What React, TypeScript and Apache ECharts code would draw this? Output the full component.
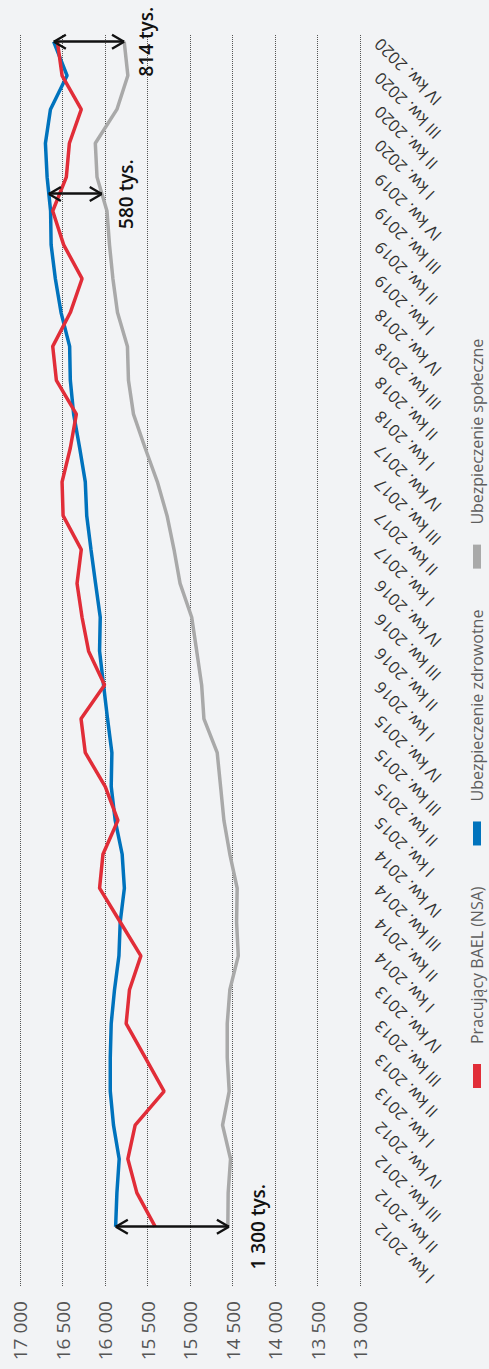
import React, { useEffect, useRef } from "react";
import * as echarts from "echarts";

const categories = [
  "I kw. 2012", "II kw. 2012", "III kw. 2012", "IV kw. 2012",
  "I kw. 2013", "II kw. 2013", "III kw. 2013", "IV kw. 2013",
  "I kw. 2014", "II kw. 2014", "III kw. 2014", "IV kw. 2014",
  "I kw. 2015", "II kw. 2015", "III kw. 2015", "IV kw. 2015",
  "I kw. 2016", "II kw. 2016", "III kw. 2016", "IV kw. 2016",
  "I kw. 2017", "II kw. 2017", "III kw. 2017", "IV kw. 2017",
  "I kw. 2018", "II kw. 2018", "III kw. 2018", "IV kw. 2018",
  "I kw. 2019", "II kw. 2019", "III kw. 2019", "IV kw. 2019",
  "I kw. 2020", "II kw. 2020", "III kw. 2020", "IV kw. 2020",
];

const seriesNames = ["Pracujący BAEL (NSA)", "Ubezpieczenie zdrowotne", "Ubezpieczenie społeczne"];

const pracujacy = [
  15410, 15625, 15731, 15645, 15305, 15528, 15751, 15712, 15578, 15821,
  16064, 16024, 15848, 15997, 16232, 16282, 16005, 16193, 16270, 16329,
  16279, 16493, 16505, 16408, 16337, 16572, 16615, 16408, 16270, 16486,
  16615, 16455, 16419, 16279, 16505, 16560,
];

const zdrowotne = [
  15875, 15860, 15833, 15900, 15938, 15938, 15927, 15888, 15836, 15821,
  15772, 15798, 15880, 15927, 15919, 15970, 16017, 16064, 16056, 16111,
  16165, 16215, 16232, 16298, 16369, 16408, 16416, 16517, 16584, 16634,
  16640, 16681, 16701, 16642, 16446, 16604,
];

const spoleczne = [
  14555, 14551, 14523, 14617, 14539, 14562, 14562, 14531, 14432, 14452,
  14445, 14531, 14601, 14640, 14680, 14836, 14863, 14921, 14980, 15117,
  15188, 15270, 15384, 15528, 15665, 15724, 15736, 15853, 15907, 15947,
  15977, 16094, 16114, 15860, 15731, 15774,
];

// annotation arrows (position on category index scale, upper and lower value)
const gapPositions = [0, 30.5, 35];
const gapUpper = [15875, 16662, 16604];
const gapLower = [14540, 16036, 15774];
const gapLabels = ["1 300 tys.", "580 tys.", "814 tys."];
const gapLabelDistance = [19, 15, 12];

const colors = ["#e12d38", "#0073bd", "#a9a9a9"];

const ARROW =
  "path://M7,0 L7.01,0 Z " +
  "M8.04,13.6 L1.04,25.6 L-1.04,24.4 L5.96,12.4 Z " +
  "M8.04,12.4 L15.04,24.4 L12.96,25.6 L5.96,13.6 Z";

const fmt = (v: number) => String(v).replace(/\B(?=(\d{3})+(?!\d))/g, " ");

export default function App() {
  const ref = useRef<HTMLDivElement>(null);

  useEffect(() => {
    if (!ref.current) return;
    const chart = echarts.init(ref.current, undefined, { renderer: "svg" });
    const font = "Open Sans";
    const option: any = {
      animation: false,
      backgroundColor: "#f2f3f5",
      textStyle: { fontFamily: font },
      grid: [
        { left: 83, right: 34, top: 20, bottom: 129 },
        { left: 142.3, right: 41.7, top: 20, bottom: 129 },
      ],
      legend: {
        data: seriesNames,
        left: 276,
        top: 463,
        icon: "rect",
        itemWidth: 24,
        itemHeight: 8,
        itemGap: 41,
        textStyle: { fontFamily: font, fontSize: 16, color: "#5e5e5e", padding: [0, 0, 0, 15], lineHeight: 18 },
      },
      xAxis: [
        { gridIndex: 0, type: "value", min: 0, max: 1, show: false },
        {
          gridIndex: 1,
          type: "category",
          data: categories,
          boundaryGap: false,
          axisLine: { show: false },
          axisTick: { show: false },
          splitLine: { show: false },
          axisLabel: { interval: 0, rotate: 45, margin: 17, fontSize: 16.5, color: "#333", fontFamily: font },
        },
        { gridIndex: 1, type: "value", min: 0, max: 35, show: false },
      ],
      yAxis: [
        {
          gridIndex: 0,
          type: "value",
          min: 13000,
          max: 17000,
          interval: 500,
          axisLine: { show: false },
          axisTick: { show: false },
          axisLabel: { margin: 15, fontSize: 19, color: "#555", fontFamily: font, formatter: fmt },
          splitLine: { show: true, lineStyle: { type: "dotted", color: "#555", width: 1 } },
        },
        { gridIndex: 1, type: "value", min: 13000, max: 17000, show: false },
      ],
      series: [
        {
          name: seriesNames[0], type: "line", xAxisIndex: 1, yAxisIndex: 1, data: pracujacy,
          showSymbol: false, symbol: "none", z: 4, color: colors[0],
          lineStyle: { width: 3.5, color: colors[0] },
        },
        {
          name: seriesNames[1], type: "line", xAxisIndex: 1, yAxisIndex: 1, data: zdrowotne,
          showSymbol: false, symbol: "none", z: 3, color: colors[1],
          lineStyle: { width: 3.5, color: colors[1] },
        },
        {
          name: seriesNames[2], type: "line", xAxisIndex: 1, yAxisIndex: 1, data: spoleczne,
          showSymbol: false, symbol: "none", z: 2, color: colors[2],
          lineStyle: { width: 3.5, color: colors[2] },
        },
        {
          type: "lines",
          coordinateSystem: "cartesian2d",
          xAxisIndex: 2,
          yAxisIndex: 1,
          clip: false,
          z: 10,
          symbol: [ARROW, ARROW],
          symbolSize: [[16.1, 25.6], [16.1, 25.6]],
          lineStyle: { color: "#111", width: 2.5, opacity: 1, curveness: 0 },
          label: {
            show: true, position: "end", formatter: "{b}", fontSize: 19, fontWeight: 600,
            color: "#111", fontFamily: font,
          },
          data: gapLabels.map((name, i) => ({
            name,
            coords: [[gapPositions[i], gapUpper[i]], [gapPositions[i], gapLower[i]]],
            label: { distance: gapLabelDistance[i] },
          })),
        },
      ],
    };
    chart.setOption(option);
    return () => chart.dispose();
  }, []);

  return (
    <div style={{ position: "absolute", left: 0, top: 0, width: 489, height: 1369, overflow: "hidden", background: "#f2f3f5" }}>
      <div
        ref={ref}
        style={{
          position: "absolute", left: 0, top: 0, width: 1369, height: 489,
          transformOrigin: "0 0", transform: "translateY(1369px) rotate(-90deg)",
        }}
      />
    </div>
  );
}
